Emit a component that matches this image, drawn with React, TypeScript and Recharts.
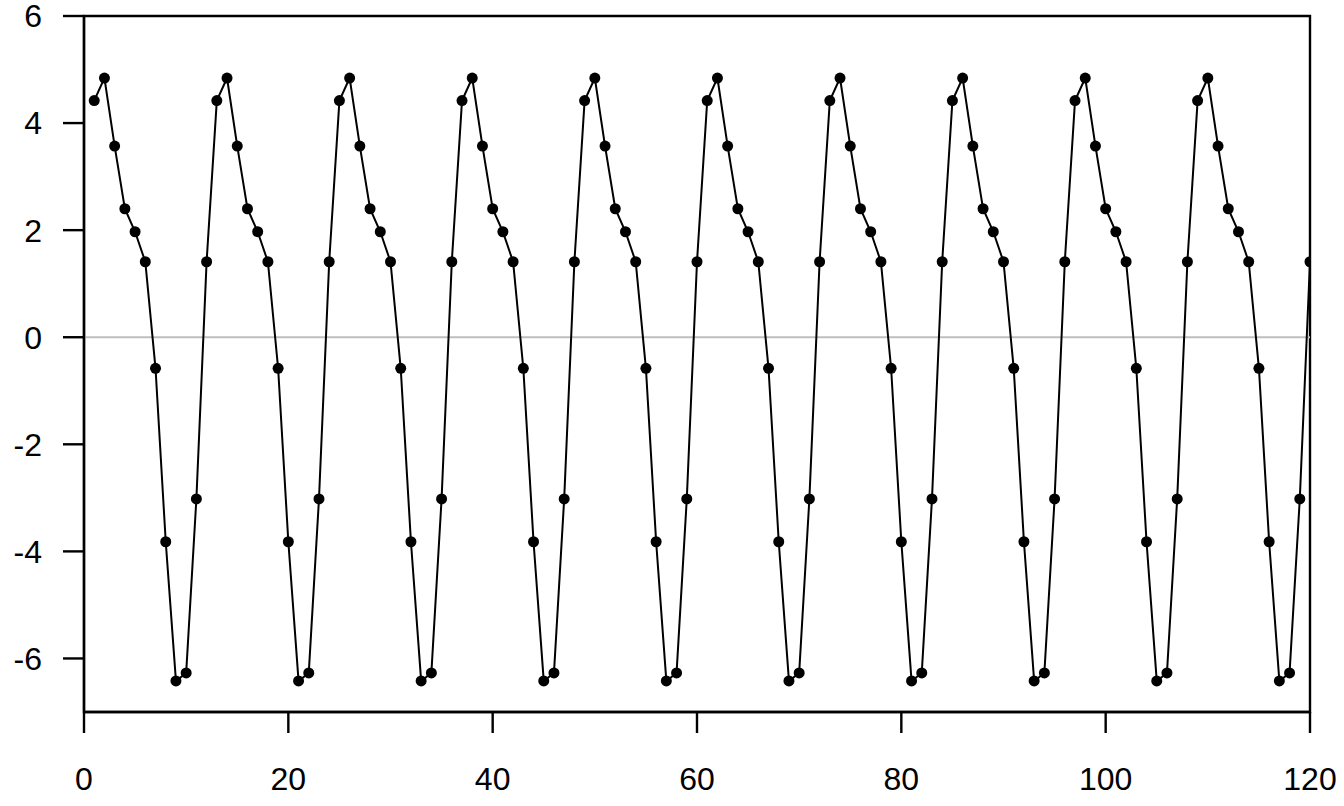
import { LineChart, Line, XAxis, YAxis, ReferenceLine, ReferenceArea } from "recharts";

// one row per 12-step cycle
const values: number[] = [
  4.42, 4.84, 3.57, 2.4, 1.97, 1.41, -0.58, -3.82, -6.42, -6.27, -3.02, 1.41,
  4.42, 4.84, 3.57, 2.4, 1.97, 1.41, -0.58, -3.82, -6.42, -6.27, -3.02, 1.41,
  4.42, 4.84, 3.57, 2.4, 1.97, 1.41, -0.58, -3.82, -6.42, -6.27, -3.02, 1.41,
  4.42, 4.84, 3.57, 2.4, 1.97, 1.41, -0.58, -3.82, -6.42, -6.27, -3.02, 1.41,
  4.42, 4.84, 3.57, 2.4, 1.97, 1.41, -0.58, -3.82, -6.42, -6.27, -3.02, 1.41,
  4.42, 4.84, 3.57, 2.4, 1.97, 1.41, -0.58, -3.82, -6.42, -6.27, -3.02, 1.41,
  4.42, 4.84, 3.57, 2.4, 1.97, 1.41, -0.58, -3.82, -6.42, -6.27, -3.02, 1.41,
  4.42, 4.84, 3.57, 2.4, 1.97, 1.41, -0.58, -3.82, -6.42, -6.27, -3.02, 1.41,
  4.42, 4.84, 3.57, 2.4, 1.97, 1.41, -0.58, -3.82, -6.42, -6.27, -3.02, 1.41,
  4.42, 4.84, 3.57, 2.4, 1.97, 1.41, -0.58, -3.82, -6.42, -6.27, -3.02, 1.41,
];

const xTicks = [0, 20, 40, 60, 80, 100, 120];
const yTicks = [-6, -4, -2, 0, 2, 4, 6];

const data = values.map((v, i) => ({ x: i + 1, y: v }));

const tickStyle = {
  fill: "#000",
  fontSize: 32,
  fontFamily: "'Liberation Sans', Arial, sans-serif",
};

export default function App() {
  return (
    <div style={{ position: "absolute", left: 0, top: 0, width: 1344, height: 806, background: "#fff" }}>
      <LineChart
        width={1344}
        height={806}
        data={data}
        margin={{ top: 16, right: 34, left: 0, bottom: 0 }}
      >
        <XAxis
          type="number"
          dataKey="x"
          domain={[0, 120]}
          ticks={xTicks}
          interval={0}
          allowDataOverflow
          height={94}
          tickSize={21}
          tickMargin={34}
          tick={tickStyle}
          axisLine={{ stroke: "#000", strokeWidth: 2.4 }}
          tickLine={{ stroke: "#000", strokeWidth: 2.4 }}
        />
        <YAxis
          type="number"
          domain={[-7, 6]}
          ticks={yTicks}
          interval={0}
          allowDataOverflow
          width={84}
          tickSize={21}
          tickMargin={21}
          tick={tickStyle}
          axisLine={{ stroke: "#000", strokeWidth: 2.4 }}
          tickLine={{ stroke: "#000", strokeWidth: 2.4 }}
        />
        <ReferenceArea
          x1={0}
          x2={120}
          y1={-7}
          y2={6}
          fill="none"
          fillOpacity={0}
          stroke="#000"
          strokeWidth={2.4}
        />
        <ReferenceLine y={0} stroke="#bebebe" strokeWidth={2} />
        <Line
          type="linear"
          dataKey="y"
          stroke="#000"
          strokeWidth={2}
          dot={{ r: 5.5, fill: "#000", stroke: "none" }}
          activeDot={false}
          isAnimationActive={false}
        />
      </LineChart>
    </div>
  );
}
